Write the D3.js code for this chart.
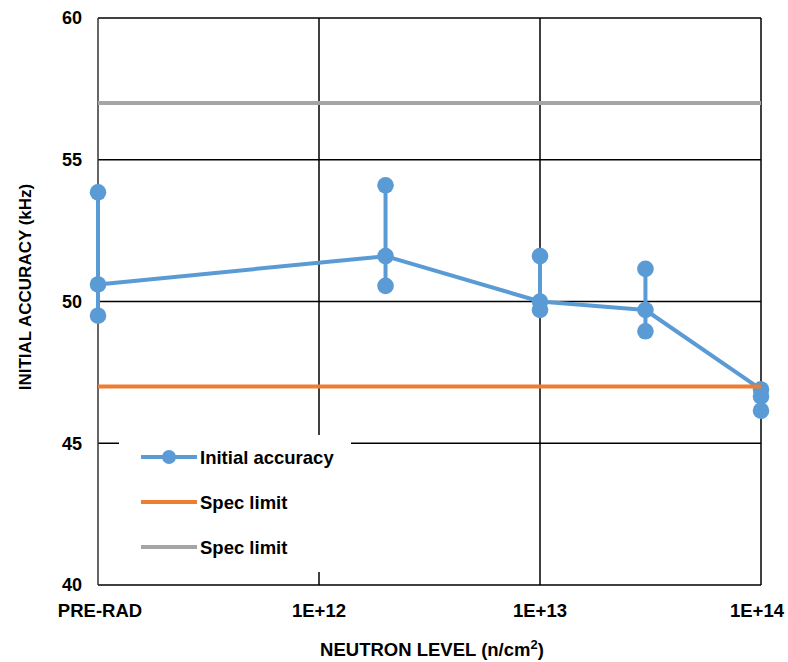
<!DOCTYPE html>
<html>
<head>
<meta charset="utf-8">
<script src="https://cdn.jsdelivr.net/npm/d3@7"></script>
<style>
  html, body { margin: 0; padding: 0; background: #fff; }
  svg { display: block; font-family: "Liberation Sans", Arial, sans-serif; font-weight: bold; }
</style>
</head>
<body>
<svg id="chart" width="788" height="662"></svg>
<script>
// ---- data ----
const xTickValues = [1e11, 1e12, 1e13, 1e14];
const xTickLabels = ["PRE-RAD", "1E+12", "1E+13", "1E+14"];
const yTickValues = [40, 45, 50, 55, 60];
const levels = [1e11, 2e12, 1e13, 3e13, 1e14];
const readingLine = [50.6, 51.6, 50.0, 49.7, 46.9];
const readingB = [53.85, 54.1, 51.6, 51.15, 46.65];
const readingC = [49.5, 50.55, 49.7, 48.95, 46.15];
const specLow = 47;
const specHigh = 57;
const legendLabels = ["Initial accuracy", "Spec limit", "Spec limit"];

// ---- setup ----
const blue = "#5B9BD5", orange = "#ED7D31", gray = "#A5A5A5";
const svg = d3.select("#chart");
const margin = { left: 98, right: 27, top: 18, bottom: 77 };
const W = 788, H = 662;
const x = d3.scaleLog().domain([1e11, 1e14]).range([margin.left, W - margin.right]);
const y = d3.scaleLinear().domain([40, 60]).range([H - margin.bottom, margin.top]);

// gridlines
const g = svg.append("g");
g.selectAll("line.hg").data(yTickValues).enter().append("line")
  .attr("x1", x(1e11)).attr("x2", x(1e14))
  .attr("y1", d => y(d)).attr("y2", d => y(d))
  .attr("stroke", "#000").attr("stroke-width", 1.5);
g.selectAll("line.vg").data(xTickValues).enter().append("line")
  .attr("x1", d => x(d)).attr("x2", d => x(d))
  .attr("y1", y(40)).attr("y2", y(60))
  .attr("stroke", d => d === 1e11 ? "#333" : "#000").attr("stroke-width", 1.5);

// y tick labels
svg.append("g").selectAll("text").data(yTickValues).enter().append("text")
  .attr("x", 82).attr("y", d => y(d)).attr("dy", "0.36em")
  .attr("text-anchor", "end").attr("font-size", 18).text(d => d);

// x tick labels
svg.append("g").selectAll("text").data(xTickValues).enter().append("text")
  .attr("x", d => x(d)).attr("y", 617)
  .attr("dx", (d, i) => i === 0 ? 2 : (i === xTickValues.length - 1 ? -4 : 0))
  .attr("text-anchor", "middle").attr("font-size", 18.5)
  .text((d, i) => xTickLabels[i]);

// axis titles
svg.append("text")
  .attr("transform", `translate(25,287) rotate(-90)`)
  .attr("dy", "0.36em").attr("text-anchor", "middle").attr("font-size", 17)
  .text("INITIAL ACCURACY (kHz)");
const xt = svg.append("text")
  .attr("x", 432).attr("y", 656).attr("text-anchor", "middle").attr("font-size", 18.5);
xt.append("tspan").text("NEUTRON LEVEL (n/cm");
xt.append("tspan").attr("font-size", 13).attr("dy", -7).text("2");
xt.append("tspan").attr("dy", 7).text(")");

// series: high-low vertical lines
const series = svg.append("g");
series.selectAll("line.hl").data(levels).enter().append("line")
  .attr("x1", d => x(d)).attr("x2", d => x(d))
  .attr("y1", (d, i) => y(Math.max(readingLine[i], readingB[i], readingC[i])))
  .attr("y2", (d, i) => y(Math.min(readingLine[i], readingB[i], readingC[i])))
  .attr("stroke", blue).attr("stroke-width", 4);
// main line
series.append("path")
  .datum(levels.map((d, i) => [d, readingLine[i]]))
  .attr("d", d3.line().x(d => x(d[0])).y(d => y(d[1])))
  .attr("fill", "none").attr("stroke", blue).attr("stroke-width", 4)
  .attr("stroke-linejoin", "round");
// markers
[readingLine, readingB, readingC].forEach(arr => {
  series.append("g").selectAll("circle").data(levels).enter().append("circle")
    .attr("cx", d => x(d)).attr("cy", (d, i) => y(arr[i]))
    .attr("r", 8.3).attr("fill", blue);
});

// spec limits
[[specHigh, gray], [specLow, orange]].forEach(([v, c]) => {
  svg.append("line")
    .attr("x1", x(1e11)).attr("x2", x(1e14))
    .attr("y1", y(v)).attr("y2", y(v))
    .attr("stroke", c).attr("stroke-width", 4);
});

// legend
const lg = svg.append("g");
lg.append("rect").attr("x", 119).attr("y", 435).attr("width", 232).attr("height", 137).attr("fill", "#fff");
const legendColors = [blue, orange, gray];
const rowY = [457, 502, 547];
legendLabels.forEach((lab, i) => {
  lg.append("line").attr("x1", 141).attr("x2", 197).attr("y1", rowY[i]).attr("y2", rowY[i])
    .attr("stroke", legendColors[i]).attr("stroke-width", 4);
  if (i === 0) lg.append("circle").attr("cx", 169).attr("cy", rowY[i]).attr("r", 7).attr("fill", blue);
  lg.append("text").attr("x", 200).attr("y", rowY[i]).attr("dy", "0.36em")
    .attr("font-size", 18.5).text(lab);
});
</script>
</body>
</html>
